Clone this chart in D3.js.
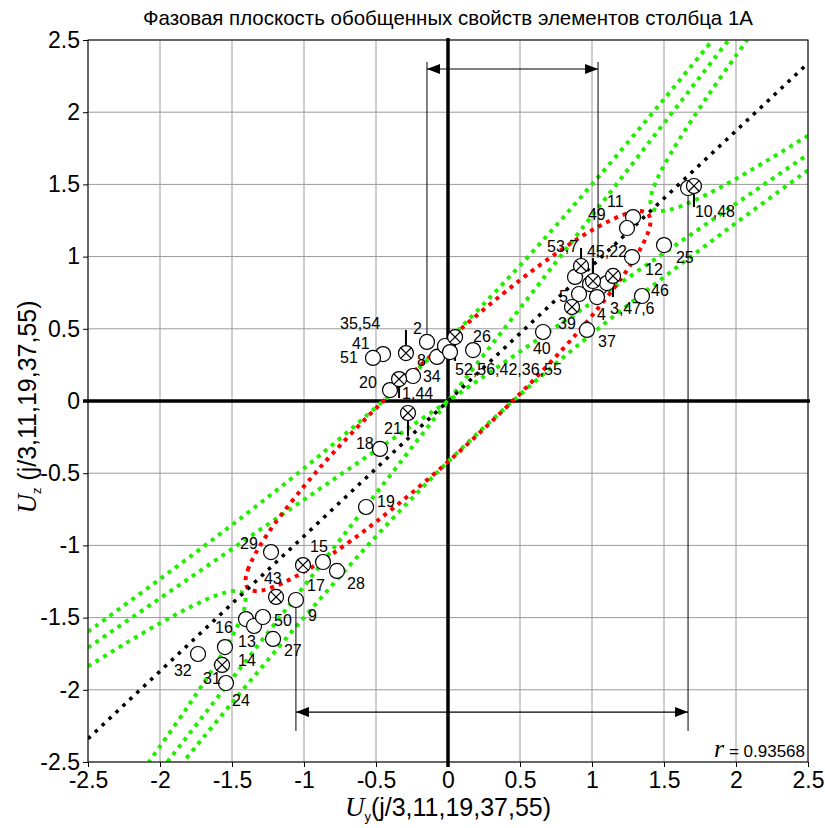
<!DOCTYPE html>
<html>
<head>
<meta charset="utf-8">
<script src="https://cdn.jsdelivr.net/npm/d3@7/dist/d3.min.js"></script>
<style>
  body { margin: 0; background: #fff; }
  svg { display: block; }
  .narrow { font-family: "Liberation Sans Narrow", "Arial Narrow", "Liberation Sans", Arial, sans-serif; }
  .tick text { font-family: "Liberation Sans Narrow", "Arial Narrow", "Liberation Sans", Arial, sans-serif; font-size: 23px; fill: #000; }
</style>
</head>
<body>
<script>
// ticks
var ticks = [-2.5, -2, -1.5, -1, -0.5, 0, 0.5, 1, 1.5, 2, 2.5]
var tickLabels = ['-2.5', '-2', '-1.5', '-1', '-0.5', '0', '0.5', '1', '1.5', '2', '2.5']

// open circles [Uy, Uz]
var pointsO = [
  [-0.146, 0.409], [-0.451, 0.325], [-0.521, 0.298], [-0.076, 0.305], [-0.021, 0.381], [0.014, 0.339],
  [0.174, 0.353], [-0.243, 0.173], [-0.403, 0.076], [-0.472, -0.332], [-0.569, -0.734],
  [1.285, 1.274], [1.243, 1.198], [0.882, 0.859], [0.986, 0.810], [1.056, 0.789], [1.104, 0.817],
  [0.910, 0.741], [1.035, 0.720], [0.660, 0.478], [0.965, 0.492], [1.278, 0.997], [1.500, 1.080],
  [1.347, 0.727], [1.667, 1.475],
  [-1.229, -1.046], [-0.868, -1.115], [-0.771, -1.177], [-1.056, -1.378], [-1.403, -1.510],
  [-1.347, -1.558], [-1.285, -1.496], [-1.215, -1.648], [-1.549, -1.704], [-1.736, -1.752], [-1.542, -1.953]
]
// crossed circles
var pointsX = [
  [-0.292, 0.332], [0.049, 0.443], [-0.340, 0.152], [-0.278, -0.083], [0.924, 0.935], [1.007, 0.831],
  [1.146, 0.866], [0.861, 0.651], [1.708, 1.489], [-1.007, -1.136], [-1.194, -1.357], [-1.569, -1.828]
]
// labels [text, Uy, Uz]
var labels = [
  ['35,54', -0.750, 0.499], ['2', -0.243, 0.464], ['41', -0.667, 0.360], ['51', -0.750, 0.263],
  ['8', -0.215, 0.242], ['34', -0.174, 0.130], ['20', -0.618, 0.090], ['1,44', -0.319, 0.012],
  ['21', -0.444, -0.229], ['18', -0.639, -0.332], ['26', 0.174, 0.409], ['52,56,42,36,55', 0.049, 0.180],
  ['19', -0.493, -0.734], ['11', 1.104, 1.343], ['49', 0.972, 1.253], ['53,7', 0.688, 1.032],
  ['45,22', 0.965, 0.997], ['12', 1.368, 0.873], ['25', 1.583, 0.956], ['46', 1.410, 0.727],
  ['5', 0.771, 0.686], ['3,47,6', 1.125, 0.602], ['4', 1.035, 0.561], ['39', 0.764, 0.499],
  ['40', 0.590, 0.325], ['37', 1.042, 0.374], ['10,48', 1.715, 1.274],
  ['29', -1.444, -1.025], ['15', -0.958, -1.046], ['43', -1.278, -1.267], ['17', -0.979, -1.316],
  ['28', -0.701, -1.302], ['9', -0.972, -1.524], ['50', -1.208, -1.558], ['16', -1.618, -1.607],
  ['13', -1.458, -1.705], ['27', -1.139, -1.766], ['14', -1.458, -1.835], ['32', -1.903, -1.904],
  ['31', -1.701, -1.960], ['24', -1.500, -2.112]
]
// leader lines [x1, y1, x2, y2]
var leaders = [
  [-0.292, 0.332, -0.292, 0.492], [0.049, 0.443, 0.049, 0.277], [-0.340, 0.152, -0.340, 0.021],
  [-0.278, -0.083, -0.278, -0.242], [0.924, 0.935, 0.924, 1.060], [1.007, 0.831, 1.007, 0.990],
  [1.146, 0.866, 1.146, 0.720], [1.708, 1.489, 1.708, 1.343]
]
var rangeLines = [
  [-0.146, 0.409, -0.146, 2.348], [1.042, 0.990, 1.042, 2.348],
  [-1.056, -1.378, -1.056, -2.285], [1.667, 1.475, 1.667, -2.285]
]
var arrows = [
  [-0.146, 2.299, 1.042, 2.299],
  [-1.056, -2.154, 1.667, -2.154]
]
// regression line
var regLine = [[-2.5, -2.339], [2.5, 2.339]]
// red contour
var redContour = [
  [-1.406, -1.247], [-1.39, -1.170], [-1.35, -1.080], [-1.3, -0.993], [-1.2, -0.845], [-1.0, -0.591],
  [-0.8, -0.363], [-0.5, -0.050], [0, 0.421], [0.5, 0.837], [0.8, 1.056], [1.0, 1.183], [1.2, 1.283],
  [1.3, 1.313], [1.35, 1.314], [1.39, 1.295], [1.406, 1.247], [1.39, 1.170], [1.35, 1.080], [1.3, 0.993],
  [1.2, 0.845], [1.0, 0.591], [0.8, 0.363], [0.5, 0.050], [0, -0.421], [-0.5, -0.837], [-0.8, -1.056],
  [-1.0, -1.183], [-1.2, -1.283], [-1.3, -1.313], [-1.35, -1.314], [-1.39, -1.295]
]
// green boundaries
var greenUpper = [
  [-2.5, -1.598], [-2.0, -1.233], [-1.5, -0.858], [-1.0, -0.466], [-0.5, -0.044], [0, 0.421],
  [0.5, 0.938], [1.0, 1.500], [1.5, 2.090], [1.838, 2.5]
]
var greenLower = [
  [2.5, 1.598], [2.0, 1.233], [1.5, 0.858], [1.0, 0.466], [0.5, 0.044], [0, -0.421],
  [-0.5, -0.938], [-1.0, -1.500], [-1.5, -2.090], [-1.838, -2.5]
]
var greenTipUp = [
  [2.5, 1.838], [2.25, 1.685], [2.0, 1.539], [1.8, 1.432], [1.6, 1.343], [1.5, 1.317], [1.45, 1.318],
  [1.42, 1.335], [1.41, 1.352], [1.406, 1.381], [1.41, 1.419], [1.42, 1.456], [1.45, 1.532], [1.5, 1.631],
  [1.6, 1.802], [1.8, 2.106], [2.0, 2.392], [2.077, 2.5]
]
var greenTipDown = [
  [-2.5, -1.838], [-2.25, -1.685], [-2.0, -1.539], [-1.8, -1.432], [-1.6, -1.343], [-1.5, -1.317], [-1.45, -1.318],
  [-1.42, -1.335], [-1.41, -1.352], [-1.406, -1.381], [-1.41, -1.419], [-1.42, -1.456], [-1.45, -1.532], [-1.5, -1.631],
  [-1.6, -1.802], [-1.8, -2.106], [-2.0, -2.392], [-2.077, -2.5]
]
var greenShallow = [[-2.5, -1.708], [2.5, 1.708]]
var greenSteep = [[-1.949, -2.5], [1.949, 2.5]]

// Variables
var margin = { top: 40, right: 17, bottom: 66, left: 88 }
var w = 825 - margin.left - margin.right
var h = 828 - margin.top - margin.bottom

// Scales
var xScale = d3.scaleLinear().domain([-2.5, 2.5]).range([0, w])
var yScale = d3.scaleLinear().domain([-2.5, 2.5]).range([h, 0])

var svg = d3.select('body').append('svg')
    .attr('width', 825)
    .attr('height', 828)
  .append('g')
    .attr('transform', 'translate(' + margin.left + ',' + margin.top + ')')

var defs = svg.append('defs')
defs.append('clipPath').attr('id', 'plot')
  .append('rect').attr('width', w).attr('height', h)
defs.append('marker')
    .attr('id', 'head')
    .attr('viewBox', '0 0 13 10')
    .attr('refX', 13).attr('refY', 5)
    .attr('markerWidth', 13).attr('markerHeight', 10)
    .attr('markerUnits', 'userSpaceOnUse')
    .attr('orient', 'auto-start-reverse')
  .append('path').attr('d', 'M0,0 L13,5 L0,10 Z').attr('fill', '#000')

// Grid
svg.append('g').selectAll('line').data(ticks).enter().append('line')
    .attr('x1', function (d) { return xScale(d) }).attr('x2', function (d) { return xScale(d) })
    .attr('y1', 0).attr('y2', h)
    .attr('stroke', '#9a9a9a').attr('stroke-width', 1)
svg.append('g').selectAll('line').data(ticks).enter().append('line')
    .attr('y1', function (d) { return yScale(d) }).attr('y2', function (d) { return yScale(d) })
    .attr('x1', 0).attr('x2', w)
    .attr('stroke', '#9a9a9a').attr('stroke-width', 1)

// Axes
var xAxis = d3.axisBottom(xScale).tickValues(ticks).tickSize(5).tickPadding(5)
  .tickFormat(function (d, i) { return tickLabels[i] })
var yAxis = d3.axisLeft(yScale).tickValues(ticks).tickSize(5).tickPadding(3)
  .tickFormat(function (d, i) { return tickLabels[i] })
svg.append('g').attr('transform', 'translate(0,' + h + ')').call(xAxis)
  .call(function (g) { g.select('.domain').remove() })
svg.append('g').call(yAxis)
  .call(function (g) { g.select('.domain').remove() })

// zero lines
svg.append('line').attr('x1', xScale(0)).attr('x2', xScale(0)).attr('y1', -2).attr('y2', h + 5)
    .attr('stroke', '#000').attr('stroke-width', 3.5)
svg.append('line').attr('y1', yScale(0)).attr('y2', yScale(0)).attr('x1', -5).attr('x2', w + 2)
    .attr('stroke', '#000').attr('stroke-width', 3.5)

// Curves
var line = d3.line()
    .x(function (d) { return xScale(d[0]) })
    .y(function (d) { return yScale(d[1]) })
    .curve(d3.curveCatmullRom.alpha(0.5))
var curves = svg.append('g').attr('clip-path', 'url(#plot)')
var greens = [greenUpper, greenLower, greenTipUp, greenTipDown, greenShallow, greenSteep]
curves.selectAll('path.green').data(greens).enter().append('path')
    .attr('class', 'green')
    .attr('d', line)
    .attr('fill', 'none')
    .attr('stroke', '#22ee00')
    .attr('stroke-width', 4)
    .attr('stroke-dasharray', '4 5')
curves.append('path')
    .attr('d', d3.line()
      .x(function (d) { return xScale(d[0]) })
      .y(function (d) { return yScale(d[1]) })
      .curve(d3.curveCatmullRomClosed.alpha(0.5))(redContour))
    .attr('fill', 'none')
    .attr('stroke', '#ff0000')
    .attr('stroke-width', 4)
    .attr('stroke-dasharray', '4 5')
curves.append('path')
    .attr('d', line(regLine))
    .attr('fill', 'none')
    .attr('stroke', '#000')
    .attr('stroke-width', 3.5)
    .attr('stroke-dasharray', '3.5 6')

// border
svg.append('rect').attr('width', w).attr('height', h)
    .attr('fill', 'none').attr('stroke', '#000').attr('stroke-width', 1)

// range lines and arrows
svg.append('g').selectAll('line').data(rangeLines).enter().append('line')
    .attr('x1', function (d) { return xScale(d[0]) }).attr('y1', function (d) { return yScale(d[1]) })
    .attr('x2', function (d) { return xScale(d[2]) }).attr('y2', function (d) { return yScale(d[3]) })
    .attr('stroke', '#000').attr('stroke-width', 1)
svg.append('g').selectAll('line').data(arrows).enter().append('line')
    .attr('x1', function (d) { return xScale(d[0]) }).attr('y1', function (d) { return yScale(d[1]) })
    .attr('x2', function (d) { return xScale(d[2]) }).attr('y2', function (d) { return yScale(d[3]) })
    .attr('stroke', '#000').attr('stroke-width', 1.2)
    .attr('marker-start', 'url(#head)').attr('marker-end', 'url(#head)')
svg.append('g').selectAll('line').data(leaders).enter().append('line')
    .attr('x1', function (d) { return xScale(d[0]) }).attr('y1', function (d) { return yScale(d[1]) })
    .attr('x2', function (d) { return xScale(d[2]) }).attr('y2', function (d) { return yScale(d[3]) })
    .attr('stroke', '#000').attr('stroke-width', 2)

// markers
var r = 7.5
svg.append('g').selectAll('circle').data(pointsO).enter().append('circle')
    .attr('cx', function (d) { return xScale(d[0]) })
    .attr('cy', function (d) { return yScale(d[1]) })
    .attr('r', r)
    .attr('fill', '#fff').attr('stroke', '#000').attr('stroke-width', 1.2)
var cross = svg.append('g').selectAll('g').data(pointsX).enter().append('g')
    .attr('transform', function (d) { return 'translate(' + xScale(d[0]) + ',' + yScale(d[1]) + ')' })
cross.append('circle').attr('r', r)
    .attr('fill', '#fff').attr('stroke', '#000').attr('stroke-width', 1.2)
cross.append('path')
    .attr('d', 'M-5.3,-5.3L5.3,5.3M-5.3,5.3L5.3,-5.3')
    .attr('stroke', '#000').attr('stroke-width', 1.2)

// point labels
svg.append('g').selectAll('text').data(labels).enter().append('text')
    .attr('class', 'narrow')
    .attr('x', function (d) { return xScale(d[1]) })
    .attr('y', function (d) { return yScale(d[2]) })
    .attr('font-size', 16)
    .text(function (d) { return d[0] })

// r value
var rt = svg.append('text').attr('x', w - 3).attr('y', h - 5).attr('text-anchor', 'end')
rt.append('tspan').attr('font-family', 'Liberation Serif, Times New Roman, serif')
    .attr('font-style', 'italic').attr('font-size', 26).text('r')
rt.append('tspan').attr('class', 'narrow').attr('font-size', 17).text(' = 0.93568')

// Title
svg.append('text').attr('class', 'narrow')
    .attr('x', w / 2).attr('y', -15)
    .attr('text-anchor', 'middle')
    .attr('font-size', 21)
    .attr('textLength', 610)
    .attr('lengthAdjust', 'spacingAndGlyphs')
    .text('Фазовая плоскость обобщенных свойств элементов столбца 1А')

// X-axis label
var xl = svg.append('text').attr('x', w / 2).attr('y', h + 54).attr('text-anchor', 'middle')
xl.append('tspan').attr('font-family', 'Liberation Serif, Times New Roman, serif')
    .attr('font-style', 'italic').attr('font-size', 27).text('U')
xl.append('tspan').attr('class', 'narrow').attr('font-size', 13).attr('dy', 5).text('y')
xl.append('tspan').attr('class', 'narrow').attr('font-size', 25).attr('dy', -5).text('(j/3,11,19,37,55)')

// Y-axis label
var yl = svg.append('text')
    .attr('transform', 'translate(-52,' + (h / 2 + 6) + ') rotate(-90)')
    .attr('text-anchor', 'middle')
yl.append('tspan').attr('font-family', 'Liberation Serif, Times New Roman, serif')
    .attr('font-style', 'italic').attr('font-size', 27).text('U')
yl.append('tspan').attr('class', 'narrow').attr('font-size', 13).attr('dy', 5).text('z')
yl.append('tspan').attr('class', 'narrow').attr('font-size', 25).attr('dy', -5).text(' (j/3,11,19,37,55)')
</script>
</body>
</html>
